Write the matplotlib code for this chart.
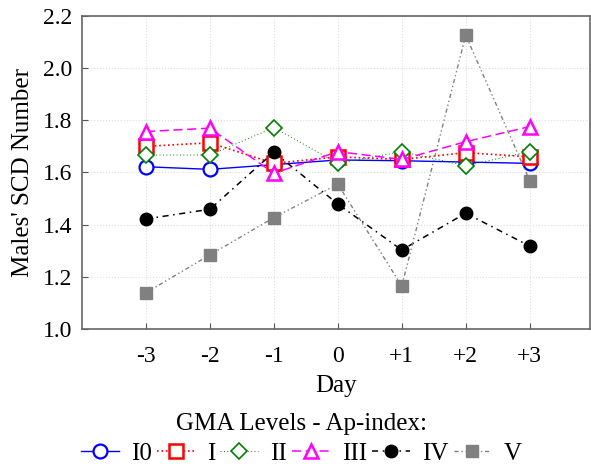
import matplotlib.pyplot as plt

days = [-3, -2, -1, 0, 1, 2, 3]
day_labels = ["-3", "-2", "-1", "0", "+1", "+2", "+3"]

lvl_I0 = [1.622, 1.612, 1.630, 1.648, 1.645, 1.640, 1.635]
lvl_I = [1.700, 1.714, 1.635, 1.660, 1.650, 1.676, 1.660]
lvl_II = [1.667, 1.667, 1.772, 1.635, 1.680, 1.626, 1.680]
lvl_III = [1.757, 1.770, 1.597, 1.680, 1.650, 1.718, 1.776]
lvl_IV = [1.422, 1.459, 1.678, 1.479, 1.303, 1.444, 1.318]
lvl_V = [1.139, 1.284, 1.427, 1.555, 1.165, 2.126, 1.569]

plt.rcParams['font.family'] = ['Liberation Serif', 'DejaVu Serif']

fig = plt.figure(figsize=(5.91, 4.66), dpi=100)
ax = fig.add_axes([0.1387, 0.294, 0.8593, 0.6717])

ax.plot(days, lvl_I0, '-', color='blue', lw=1, marker='o', ms=10, mfc='white', mew=1.6, label='I0')
ax.plot(days, lvl_I, ':', color='red', lw=1.2, marker='s', ms=9.5, mfc='white', mew=1.8, label='I')
ax.plot(days, lvl_II, ':', color='green', lw=0.7, marker='D', ms=8, mfc='white', mew=1.2,
        label='II', dashes=(1, 2.5))
ax.plot(days, lvl_III, '--', color='magenta', lw=1.1, marker='^', ms=10, mfc='white', mew=1.8,
        label='III', dashes=(6, 3))
ax.plot(days, lvl_IV, '-.', color='black', lw=1.1, marker='o', ms=9, label='IV',
        dashes=(4, 3, 1, 3))
ax.plot(days, lvl_V, color='gray', lw=1, marker='s', ms=9, label='V',
        dashes=(3, 2, 1, 2, 1, 2))

ax.set_xlim(-4, 3.94)
ax.set_ylim(1.0, 2.2)
ax.set_xticks(days)
ax.set_xticklabels(day_labels)
ax.set_yticks([1.0, 1.2, 1.4, 1.6, 1.8, 2.0, 2.2])
ax.set_yticklabels(["1.0", "1.2", "1.4", "1.6", "1.8", "2.0", "2.2"])
ax.tick_params(direction='in', labelsize=17, length=4, color='#555555')
ax.tick_params(axis='x', pad=12)
ax.tick_params(axis='y', pad=7)
ax.grid(True, linestyle=':', color='#dddddd', lw=0.8)
for s in ax.spines.values():
    s.set_color('#666666')
    s.set_linewidth(1.2)

ax.set_xlabel("Day", fontsize=18, labelpad=6)
ax.set_ylabel("Males' SCD Number", fontsize=18, labelpad=6)

fig.legend(loc='lower center', bbox_to_anchor=(0.51, -0.025), ncol=6, frameon=False,
           fontsize=18, title="GMA Levels - Ap-index:", title_fontsize=18,
           handlelength=1.5, handletextpad=0.5, columnspacing=0.2, borderaxespad=0.1,
           labelspacing=0.3)

fig.savefig('out.png', dpi=100)
